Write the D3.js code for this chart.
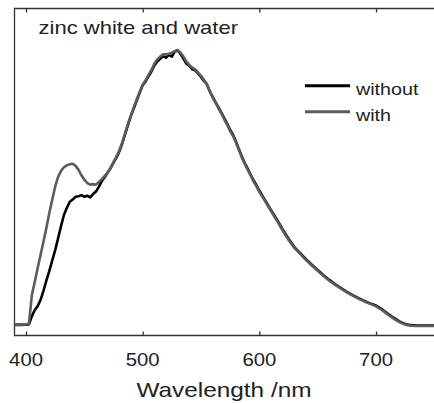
<!DOCTYPE html>
<html>
<head>
<meta charset="utf-8">
<script src="https://cdn.jsdelivr.net/npm/d3@7"></script>
<style>
  html, body { margin: 0; padding: 0; background: #fff; }
  svg { display: block; }
  text { font-family: "Liberation Sans", Arial, Helvetica, sans-serif; fill: #222; }
</style>
</head>
<body>
<svg id="chart" width="434" height="404"></svg>
<script>
// Emission spectra of zinc white, without and with water (normalised intensity)
const wavelength = [
  390, 395,
  400, 402.5, 405, 407.5, 410, 412.5, 415, 417.5, 420, 422.5, 425, 427.5, 430, 432.5,
  435, 437.5, 440, 442.5, 445, 447.5, 450, 452.5, 455, 457.5, 460, 462.5, 465, 467.5,
  470, 472.5, 475, 477.5, 480, 482.5, 485, 487.5, 490, 492.5, 495, 497.5, 500, 502.5,
  505, 507.5, 510, 512.5, 515, 517.5, 520, 522.5, 525, 527.5, 530, 532.5, 535, 537.5,
  540, 542.5, 545, 547.5, 550, 552.5, 555, 557.5, 560, 562.5, 565, 567.5, 570, 572.5,
  575, 577.5, 580, 582.5, 585, 587.5, 590, 592.5, 595, 597.5, 600,
  605, 610, 615, 620, 625, 630, 635, 640, 645, 650, 655, 660, 665, 670, 675, 680,
  685, 690, 695, 700, 705, 710, 715, 720, 725, 730, 735, 740, 745, 750
];

const without = [
  0.004, 0.004,
  0.005, 0.006, 0.035, 0.058, 0.072, 0.095, 0.128, 0.165, 0.200, 0.238, 0.275, 0.318, 0.362, 0.402,
  0.428, 0.450, 0.458, 0.468, 0.470, 0.474, 0.468, 0.472, 0.466, 0.478, 0.487, 0.505, 0.525, 0.540,
  0.556, 0.572, 0.592, 0.610, 0.632, 0.662, 0.696, 0.730, 0.762, 0.790, 0.818, 0.846, 0.872, 0.886,
  0.904, 0.922, 0.944, 0.958, 0.968, 0.978, 0.972, 0.982, 0.976, 0.994, 0.998, 0.986, 0.968, 0.950,
  0.942, 0.930, 0.926, 0.914, 0.902, 0.888, 0.876, 0.850, 0.830, 0.810, 0.792, 0.772, 0.752, 0.732,
  0.710, 0.692, 0.668, 0.640, 0.614, 0.590, 0.570, 0.548, 0.528, 0.510, 0.490,
  0.455, 0.420, 0.386, 0.350, 0.316, 0.286, 0.264, 0.242, 0.222, 0.203, 0.184, 0.167, 0.151, 0.137, 0.124, 0.112,
  0.101, 0.091, 0.082, 0.074, 0.061, 0.045, 0.030, 0.017, 0.007, 0.003, 0.002, 0.002, 0.002, 0.002
];

const withWater = [
  0.005, 0.005,
  0.006, 0.008, 0.112, 0.160, 0.210, 0.258, 0.306, 0.356, 0.410, 0.458, 0.505, 0.540, 0.562, 0.575,
  0.582, 0.586, 0.588, 0.580, 0.566, 0.546, 0.530, 0.518, 0.512, 0.514, 0.512, 0.522, 0.532, 0.544,
  0.556, 0.574, 0.594, 0.614, 0.636, 0.664, 0.700, 0.734, 0.764, 0.794, 0.822, 0.848, 0.874, 0.890,
  0.910, 0.928, 0.950, 0.966, 0.976, 0.984, 0.984, 0.986, 0.990, 0.996, 1.000, 0.990, 0.976, 0.958,
  0.946, 0.936, 0.930, 0.918, 0.906, 0.892, 0.876, 0.852, 0.828, 0.808, 0.788, 0.770, 0.748, 0.728,
  0.706, 0.688, 0.664, 0.638, 0.610, 0.588, 0.566, 0.546, 0.524, 0.506, 0.486,
  0.452, 0.416, 0.382, 0.346, 0.312, 0.283, 0.261, 0.239, 0.219, 0.200, 0.181, 0.164, 0.149, 0.135, 0.122, 0.110,
  0.099, 0.089, 0.080, 0.071, 0.058, 0.042, 0.027, 0.014, 0.005, 0.001, 0.000, 0.000, 0.000, 0.000
];

const xTicks = [400, 500, 600, 700];
const seriesNames = ["without", "with"];
const seriesColors = ["#000000", "#5c5c5c"];
const titleText = "zinc white and water";
const xLabel = "Wavelength /nm";

const svg = d3.select("#chart");
const plot = { left: 14, right: 434, top: 8, bottom: 335 };
const stretch = 1.16;   // horizontal glyph stretch for all labels

const x = d3.scaleLinear().domain([389.7, 749.7]).range([plot.left, plot.right]);
const y = d3.scaleLinear().domain([-0.0326, 1.152]).range([plot.bottom, plot.top]);

svg.append("clipPath").attr("id", "clip")
  .append("rect")
  .attr("x", plot.left).attr("y", plot.top)
  .attr("width", plot.right - plot.left).attr("height", plot.bottom - plot.top);

// frame
const frame = svg.append("g").attr("stroke", "#333").attr("stroke-width", 1.3).attr("fill", "none");
frame.append("path").attr("d",
  `M${plot.right},${plot.top + 0.5} H${plot.left + 0.5} V${plot.bottom + 0.5} H${plot.right}`);

// bottom axis: inward ticks
const bottomAxis = d3.axisBottom(x).tickValues(xTicks).tickSize(-4).tickFormat("");
const gb = svg.append("g").attr("transform", `translate(0,${plot.bottom + 0.5})`).call(bottomAxis);
gb.select(".domain").remove();
gb.selectAll(".tick line").attr("stroke", "#333").attr("stroke-width", 1.3);

// top axis: inward ticks
const topAxis = d3.axisTop(x).tickValues(xTicks).tickSize(-4).tickFormat("");
const gt = svg.append("g").attr("transform", `translate(0,${plot.top + 0.5})`).call(topAxis);
gt.select(".domain").remove();
gt.selectAll(".tick line").attr("stroke", "#333").attr("stroke-width", 1.3);

// tick labels
svg.append("g").selectAll("text").data(xTicks).join("text")
  .attr("transform", d => `translate(${x(d)},366) scale(${stretch},1)`)
  .attr("text-anchor", "middle")
  .attr("font-size", 17.5)
  .text(d => d);

// axis title
svg.append("text")
  .attr("transform", `translate(${(plot.left + plot.right) / 2},397) scale(${stretch},1)`)
  .attr("text-anchor", "middle")
  .attr("font-size", 21)
  .text(xLabel);

// spectra
const line = d3.line()
  .x((d, i) => x(wavelength[i]))
  .y(d => y(d));

const lines = svg.append("g").attr("clip-path", "url(#clip)");
[without, withWater].forEach((s, k) => {
  lines.append("path")
    .datum(s)
    .attr("fill", "none")
    .attr("stroke", seriesColors[k])
    .attr("stroke-width", 2.6)
    .attr("stroke-linejoin", "round")
    .attr("d", line);
});

// title
svg.append("text")
  .attr("transform", `translate(38.5,34) scale(${stretch},1)`)
  .attr("font-size", 19)
  .text(titleText);

// legend
const legend = svg.append("g");
seriesNames.forEach((name, k) => {
  const ly = 85.7 + k * 26;
  legend.append("line")
    .attr("x1", 305).attr("x2", 350)
    .attr("y1", ly).attr("y2", ly)
    .attr("stroke", seriesColors[k]).attr("stroke-width", 3);
  legend.append("text")
    .attr("transform", `translate(356,${ly + 9.3}) scale(${stretch},1)`)
    .attr("font-size", 17)
    .text(name);
});
</script>
</body>
</html>
